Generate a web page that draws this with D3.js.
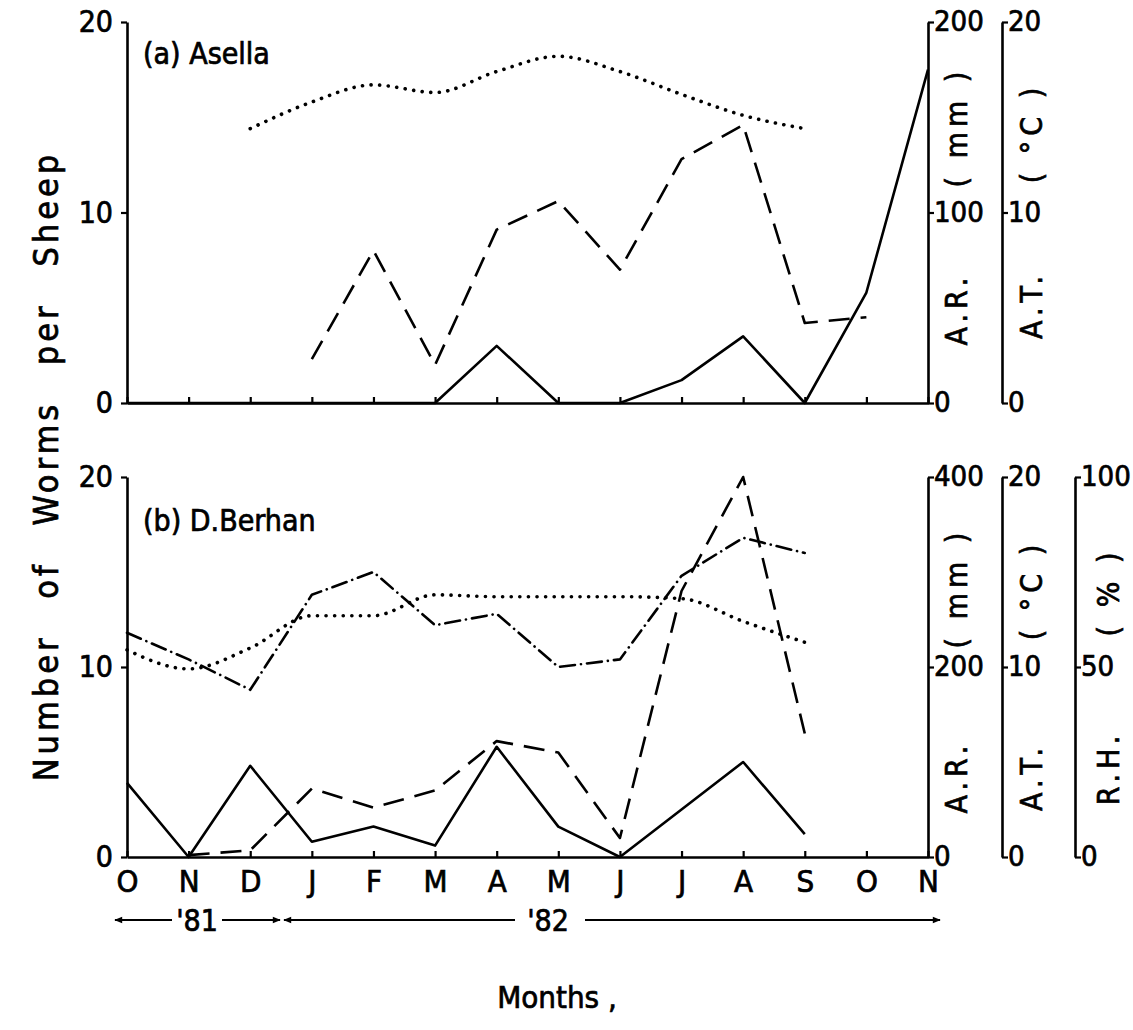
<!DOCTYPE html>
<html><head><meta charset="utf-8">
<script src="https://cdn.jsdelivr.net/npm/d3@7"></script>
<style>
body{margin:0;background:#fff}
svg{display:block}
text{font-family:"DejaVu Sans Condensed","Liberation Sans Narrow","Roboto Condensed",sans-serif;fill:#000}
</style>
</head><body><svg id="c" width="1133" height="1030"></svg>
<script>
// ---- data ----
const months = ["O","N","D","J","F","M","A","M","J","J","A","S","O","N"];
const wormsAsella = [0,0,0,0,0,0,3.0,0,0,1.2,3.5,0,5.8,17.5];
const rainAsella  = [null,null,null,23,80,20,91,106,70,128,146,42,45,null];
const tempAsella  = [null,null,14.4,15.8,16.7,16.3,17.4,18.2,17.4,16.2,15.1,14.4,null,null];
const wormsBerhan = [3.9,0,4.8,0.8,1.6,0.6,5.8,1.6,0,2.5,5.0,1.2,null,null];
const rainBerhan  = [null,2,7,72,52,70,122,110,20,280,400,130,null,null];
const tempBerhan  = [10.9,9.9,11.0,12.7,12.7,13.8,13.7,13.7,13.7,13.6,12.4,11.3,null,null];
const rhBerhan    = [59,52,44,69,75,61,64,50,52,74,84,80,null,null];
const wormTicks = [0,10,20];
const rainTicksA = [0,100,200];
const rainTicksB = [0,200,400];
const tempTicks = [0,10,20];
const rhTicks = [0,50,100];

// ---- layout ----
const svg = d3.select("#c");
const X0 = 127, X1 = 928;
const AX2 = 1002, AX3 = 1075;
const pa = {top:22, bottom:403};
const pb = {top:477, bottom:857};
const x = d3.scaleLinear().domain([0, months.length-1]).range([X0, X1]);

const LW = 2.6;
const styles = {
  solid:  {dash:null, cap:"butt", w:LW},
  dashed: {dash:"21,11", cap:"butt", w:LW},
  dotted: {dash:"0.1,8.5", cap:"round", w:3.6},
  dashdot:{dash:"15,6,0.1,6", cap:"round", w:LW}
};

function drawLine(vals, yScale, st){
  const line = d3.line()
    .defined(d => d != null)
    .x((d,i) => x(i))
    .y(d => yScale(d));
  if (st === styles.dotted) line.curve(d3.curveMonotoneX);
  svg.append("path")
    .attr("d", line(vals))
    .attr("fill","none")
    .attr("stroke","#000")
    .attr("stroke-width", st.w)
    .attr("stroke-linecap", st.cap)
    .attr("stroke-linejoin","round")
    .attr("stroke-dasharray", st.dash);
}

function thick(sel){ return sel.attr("stroke","#000").attr("stroke-width",0.7); }

function styleAxis(g, fs){
  g.selectAll("path.domain").attr("stroke","#000").attr("stroke-width",2.6);
  g.selectAll(".tick line").attr("stroke","#000").attr("stroke-width",2.2);
  thick(g.selectAll(".tick text").attr("font-size",fs).attr("fill","#000"));
}

function leftAxis(p){
  const y = d3.scaleLinear().domain([0,20]).range([p.bottom, p.top]);
  const g = svg.append("g").attr("transform",`translate(${X0},0)`)
    .call(d3.axisLeft(y).tickValues(wormTicks).tickSize(6).tickSizeOuter(0).tickPadding(8));
  styleAxis(g, 30);
  return y;
}
function rightAxis(xp, p, dom, ticks){
  const y = d3.scaleLinear().domain(dom).range([p.bottom, p.top]);
  const g = svg.append("g").attr("transform",`translate(${xp},0)`)
    .call(d3.axisRight(y).tickValues(ticks).tickSize(6).tickSizeOuter(0).tickPadding(0));
  styleAxis(g, 29);
  g.selectAll(".tick text").attr("dy","0.3em");
  return y;
}
function bottomAxis(p, labels){
  const g = svg.append("g").attr("transform",`translate(0,${p.bottom})`)
    .call(d3.axisBottom(x).tickValues(d3.range(months.length)).tickSize(-6).tickSizeOuter(0)
      .tickPadding(12).tickFormat(i => labels ? months[i] : ""));
  styleAxis(g, 31);
  g.selectAll(".tick text").attr("dy","0.75em");
}
function vLabel(xp, yc, txt, fs){
  thick(svg.append("text").attr("transform",`translate(${xp},${yc}) rotate(-90)`)
    .attr("text-anchor","middle").attr("font-size",fs).attr("letter-spacing",5)
    .attr("dominant-baseline","central").attr("style","white-space:pre").text(txt));
}

// ---- panel (a) Asella ----
const yWa = leftAxis(pa);
const yRa = rightAxis(X1, pa, [0,200], rainTicksA);
const yTa = rightAxis(AX2, pa, [0,20], tempTicks);
bottomAxis(pa, false);
drawLine(tempAsella, yTa, styles.dotted);
drawLine(rainAsella, yRa, styles.dashed);
drawLine(wormsAsella, yWa, styles.solid);
thick(svg.append("text").attr("x",143).attr("y",64).attr("font-size",30).text("(a) Asella"));
vLabel(956, 309, "A.R.", 30); vLabel(956, 127, "( mm )", 30);
vLabel(1031, 305, "A.T.", 30); vLabel(1031, 133, "( °C )", 30);

// ---- panel (b) D.Berhan ----
const yWb = leftAxis(pb);
const yRb = rightAxis(X1, pb, [0,400], rainTicksB);
const yTb = rightAxis(AX2, pb, [0,20], tempTicks);
const yHb = rightAxis(AX3, pb, [0,100], rhTicks);
bottomAxis(pb, true);
drawLine(tempBerhan, yTb, styles.dotted);
drawLine(rhBerhan, yHb, styles.dashdot);
drawLine(rainBerhan, yRb, styles.dashed);
drawLine(wormsBerhan, yWb, styles.solid);
thick(svg.append("text").attr("x",143).attr("y",531).attr("font-size",30).text("(b) D.Berhan"));
vLabel(956, 777, "A.R.", 30); vLabel(956, 588, "( mm )", 30);
vLabel(1031, 777, "A.T.", 30); vLabel(1031, 590, "( °C )", 30);
vLabel(1108, 768, "R.H.", 30); vLabel(1108, 592, "( % )", 30);

// ---- y title ----
thick(svg.append("text").attr("transform","translate(46,466) rotate(-90)")
  .attr("text-anchor","middle").attr("dominant-baseline","central")
  .attr("font-size",34).attr("letter-spacing",4).attr("word-spacing",22)
  .text("Number of Worms per Sheep"));

// ---- year arrows ----
const defs = svg.append("defs");
defs.append("marker").attr("id","ah").attr("viewBox","0 0 10 10").attr("refX",9).attr("refY",5)
  .attr("markerWidth",10).attr("markerHeight",8).attr("markerUnits","userSpaceOnUse")
  .attr("orient","auto").append("path").attr("d","M0,1 L10,5 L0,9 Z").attr("fill","#000");
const AY = 920;
function arrow(xa, xb){
  svg.append("line").attr("x1",xa).attr("x2",xb).attr("y1",AY).attr("y2",AY)
    .attr("stroke","#000").attr("stroke-width",2).attr("marker-end","url(#ah)");
}
arrow(172,115); arrow(222,280); arrow(515,284); arrow(585,940);
thick(svg.append("text").attr("x",197).attr("y",AY+11).attr("text-anchor","middle").attr("font-size",30).text("'81"));
thick(svg.append("text").attr("x",548).attr("y",AY+11).attr("text-anchor","middle").attr("font-size",30).text("'82"));

thick(svg.append("text").attr("x",557).attr("y",1008).attr("text-anchor","middle").attr("font-size",31).text("Months ,"));
</script>
</body></html>
